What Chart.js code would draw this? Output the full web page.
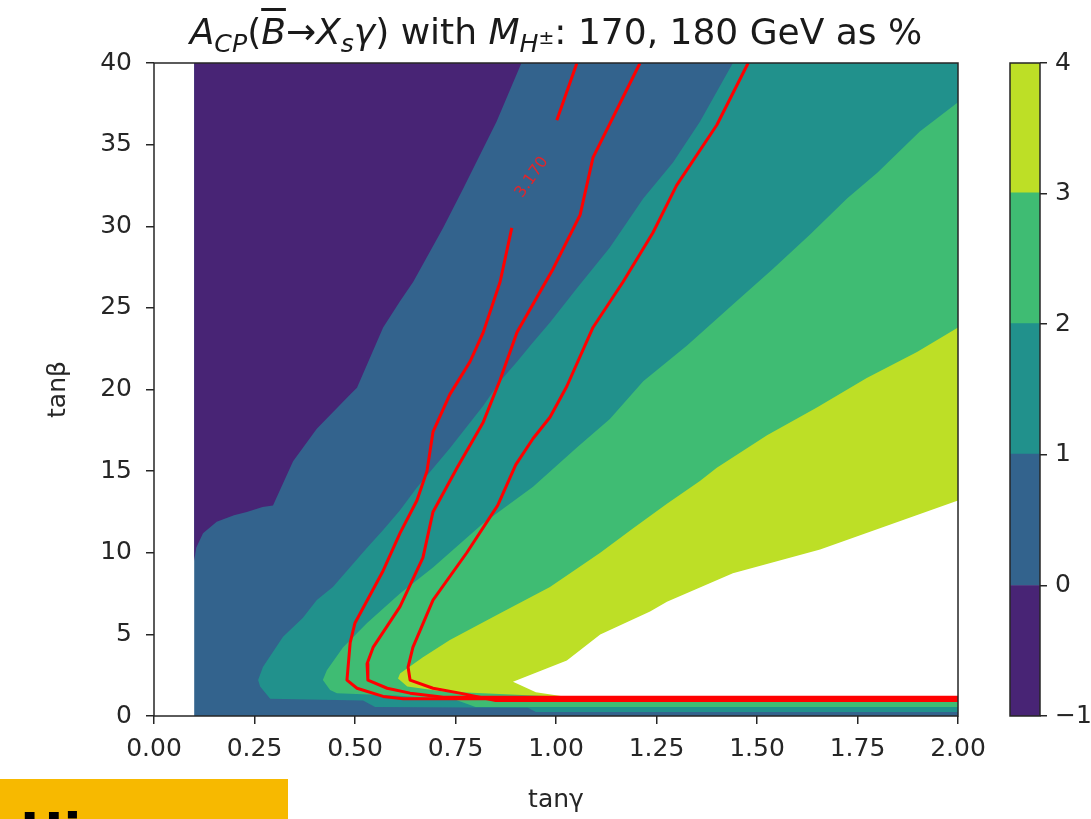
<!DOCTYPE html>
<html>
<head>
<meta charset="utf-8">
<script src="https://cdn.jsdelivr.net/npm/chart.js@4.4.1/dist/chart.umd.min.js"></script>
<style>
  html, body { margin: 0; padding: 0; background: #fff; }
  #wrap { position: relative; width: 1091px; height: 819px; overflow: hidden; font-family: 'DejaVu Sans', sans-serif; }
  #main { position: absolute; left: 0; top: 0; }
  #cbar { position: absolute; left: 1000px; top: 0; }
  #title { position: absolute; left: 154px; width: 804px; top: 10px; text-align: center; font-size: 36px; color: #1a1a1a; white-space: nowrap; line-height: 44px; }
  #title sub { font-size: 0.7em; vertical-align: -0.3em; line-height: 0; }
  #title sup { font-size: 0.75em; vertical-align: 0.45em; line-height: 0; }
  .bar { text-decoration: overline; }
  #badge { position: absolute; left: 0; top: 779px; width: 288px; height: 40px; background: #f7b900; overflow: hidden; }
  #badge span { position: absolute; left: 20px; top: 27px; font: bold 52px/1 'DejaVu Sans', sans-serif; color: #000; }
</style>
</head>
<body>
<div id="wrap">
  <canvas id="main" width="1091" height="819"></canvas>
  <canvas id="cbar" width="91" height="819"></canvas>
  <div id="title"><i>A</i><sub><i>CP</i></sub>(<i class="bar">B</i>→<i>X</i><sub><i>s</i></sub><i>γ</i>) with <i>M</i><sub><i>H</i><sup>±</sup></sub>: 170, 180 GeV as %</div>
  <div id="badge"><span>Hi</span></div>
</div>
<script>
// contour levels and colours (viridis, 5 bands)
const levels = [-1, 0, 1, 2, 3, 4];
const levelColors = ['#482475', '#33638d', '#21918c', '#3fbc73', '#bddf26'];

// filled regions, [tanγ, tanβ]
const bandBlue = [[0.1, 0], [2, 0], [2, 40], [0.1, 40]];
const bandPurple = [[0.1, 40], [0.914, 40], [0.852, 36.4], [0.769, 32.3], [0.719, 29.9], [0.645, 26.6], [0.612, 25.4],
  [0.57, 23.8], [0.505, 20.1], [0.488, 19.7], [0.405, 17.6], [0.346, 15.6], [0.296, 12.9], [0.27, 12.8], [0.231, 12.5],
  [0.199, 12.3], [0.156, 11.9], [0.122, 11.2], [0.105, 10.3], [0.1, 9.5]];
const bandTeal = [[0.259, 2.2], [0.271, 3.0], [0.321, 4.85], [0.37, 6.0], [0.405, 7.1], [0.445, 7.9], [0.53, 10.3],
  [0.57, 11.4], [0.612, 12.6], [0.654, 14.0], [0.736, 16.4], [0.819, 19.0], [0.861, 20.5], [0.903, 21.7], [0.943, 22.9],
  [0.985, 24.1], [1.052, 26.2], [1.134, 28.7], [1.217, 31.7], [1.291, 33.9], [1.358, 36.4], [1.44, 40], [2, 40],
  [2, 0.25], [0.95, 0.25], [0.93, 0.5], [0.55, 0.55], [0.52, 0.95], [0.289, 1.05], [0.264, 1.8]];
const bandGreen = [[0.42, 2.2], [0.43, 2.8], [0.47, 4.2], [0.53, 5.7], [0.612, 7.5], [0.694, 9.1], [0.819, 11.8],
  [0.943, 14.05], [1.052, 16.45], [1.134, 18.2], [1.217, 20.5], [1.326, 22.7], [1.44, 25.2], [1.54, 27.4], [1.632, 29.5],
  [1.724, 31.7], [1.8, 33.3], [1.905, 35.8], [2, 37.6], [2, 0.55], [0.8, 0.55], [0.75, 1.0], [0.6, 1.25], [0.455, 1.4],
  [0.438, 1.6]];
const bandYellow = [[0.607, 2.3], [0.612, 2.6], [0.669, 3.6], [0.736, 4.65], [0.861, 6.3], [0.985, 7.9], [1.11, 10.0],
  [1.192, 11.5], [1.276, 13.0], [1.358, 14.4], [1.4, 15.2], [1.525, 17.2], [1.649, 18.9], [1.773, 20.7], [1.898, 22.3],
  [2, 23.8], [2, 0.85], [1.05, 0.85], [1.0, 1.2], [0.72, 1.5], [0.63, 1.8]];
const bandEmpty = [[0.893, 2.1], [1.027, 3.4], [1.11, 5.0], [1.234, 6.4], [1.276, 7.0], [1.44, 8.75], [1.657, 10.2],
  [2, 13.2], [2, 1.2], [1.02, 1.2], [0.95, 1.45]];

// red contour lines
const lineA = [[1.052, 40], [1.002, 36.5], null, [0.89, 29.9], [0.861, 26.6], [0.819, 23.5], [0.786, 21.7], [0.736, 19.7],
  [0.694, 17.4], [0.679, 15.0], [0.654, 13.2], [0.612, 11.2], [0.57, 8.9], [0.5, 5.7], [0.488, 4.5], [0.48, 2.2],
  [0.505, 1.7], [0.57, 1.2], [0.62, 1.05], [2, 1.05]];
const lineB = [[1.209, 40], [1.092, 34.2], [1.06, 30.7], [0.993, 27.4], [0.903, 23.5], [0.861, 20.6], [0.819, 18.0],
  [0.754, 15.2], [0.694, 12.5], [0.669, 9.7], [0.612, 6.7], [0.545, 4.2], [0.53, 3.2], [0.532, 2.2], [0.58, 1.7],
  [0.637, 1.4], [0.72, 1.15], [2, 1.15]];
const lineC = [[1.478, 40], [1.4, 36.2], [1.3, 32.5], [1.241, 29.6], [1.167, 26.6], [1.092, 23.8], [1.027, 20.2],
  [0.985, 18.3], [0.943, 17.0], [0.9, 15.4], [0.855, 12.9], [0.778, 10.0], [0.694, 7.1], [0.644, 4.2], [0.632, 3.0],
  [0.637, 2.2], [0.694, 1.7], [0.761, 1.4], [0.85, 0.95], [2, 0.95]];
const contourLabelText = '3.170';
const contourLabelAt = [0.94, 33.0];

const FONT = "'DejaVu Sans', sans-serif";
const INK = '#262626';

const toPts = arr => arr.map(p => p ? {x: p[0], y: p[1]} : {x: null, y: null});

function region(pts, color, order) {
  return {data: toPts(pts), backgroundColor: color, borderColor: 'rgba(0,0,0,0)', borderWidth: 0,
    fill: 'shape', pointRadius: 0, order: order};
}
function contour(pts) {
  return {data: toPts(pts), borderColor: '#ff0000', borderWidth: 3, fill: false, pointRadius: 0,
    order: 0, borderJoinStyle: 'round', spanGaps: false};
}

const frame = {
  id: 'frame',
  afterDatasetsDraw(chart) {
    const {ctx, chartArea: a} = chart;
    ctx.save();
    ctx.strokeStyle = INK;
    ctx.lineWidth = 1.5;
    ctx.strokeRect(a.left, a.top, a.right - a.left, a.bottom - a.top);
    ctx.restore();
  }
};

const contourLabel = {
  id: 'contourLabel',
  afterDatasetsDraw(chart) {
    const {ctx, scales: {x, y}} = chart;
    ctx.save();
    ctx.translate(x.getPixelForValue(contourLabelAt[0]), y.getPixelForValue(contourLabelAt[1]));
    ctx.rotate(-55 * Math.PI / 180);
    ctx.fillStyle = '#e0262c';
    ctx.font = '16px ' + FONT;
    ctx.textAlign = 'center';
    ctx.textBaseline = 'middle';
    ctx.fillText(contourLabelText, 0, 0);
    ctx.restore();
  }
};

new Chart(document.getElementById('main'), {
  type: 'line',
  data: {
    datasets: [
      region(bandBlue, levelColors[1], 10),
      region(bandPurple, levelColors[0], 9),
      region(bandTeal, levelColors[2], 8),
      region(bandGreen, levelColors[3], 7),
      region(bandYellow, levelColors[4], 6),
      region(bandEmpty, '#ffffff', 5),
      contour(lineA),
      contour(lineB),
      contour(lineC)
    ]
  },
  options: {
    responsive: false,
    animation: false,
    layout: {padding: {left: 39, top: 63, right: 133, bottom: 0}},
    plugins: {legend: {display: false}, tooltip: {enabled: false}},
    scales: {
      x: {
        type: 'linear', min: 0, max: 2,
        afterFit(s) { s.height = 103; },
        ticks: {stepSize: 0.25, autoSkip: false, maxRotation: 0, padding: 10, color: INK,
          font: {family: FONT, size: 25}, callback: v => v.toFixed(2)},
        grid: {drawOnChartArea: false, drawTicks: true, tickLength: 8, color: INK, lineWidth: 1.5},
        border: {display: false},
        title: {display: true, text: 'tanγ', color: INK, font: {family: FONT, size: 25}, padding: {top: 4, bottom: 4}}
      },
      y: {
        type: 'linear', min: 0, max: 40,
        afterFit(s) { s.width = 115; },
        ticks: {stepSize: 5, padding: 14, color: INK, font: {family: FONT, size: 25}},
        grid: {drawOnChartArea: false, drawTicks: true, tickLength: 8, color: INK, lineWidth: 1.5},
        border: {display: false},
        title: {display: true, text: 'tanβ', color: INK, font: {family: FONT, size: 25}, padding: {top: 4, bottom: 4}}
      }
    }
  },
  plugins: [frame, contourLabel]
});

// colour bar
new Chart(document.getElementById('cbar'), {
  type: 'bar',
  data: {
    labels: [''],
    datasets: levelColors.map((c, i) => ({
      data: [[levels[i], levels[i + 1]]], backgroundColor: c, borderWidth: 0, inflateAmount: 1,
      barPercentage: 1, categoryPercentage: 1, grouped: false
    }))
  },
  options: {
    responsive: false,
    animation: false,
    layout: {padding: {left: 10, top: 63, right: 0, bottom: 103}},
    plugins: {legend: {display: false}, tooltip: {enabled: false}},
    scales: {
      x: {display: false},
      y: {
        position: 'right', min: levels[0], max: levels[levels.length - 1],
        afterFit(s) { s.width = 51; },
        ticks: {stepSize: 1, padding: 8, color: INK, font: {family: FONT, size: 25},
          callback: v => v < 0 ? '\u2212' + Math.abs(v) : String(v)},
        grid: {drawOnChartArea: false, drawTicks: true, tickLength: 7, color: INK, lineWidth: 1.5},
        border: {display: false}
      }
    }
  },
  plugins: [frame]
});
</script>
</body>
</html>
